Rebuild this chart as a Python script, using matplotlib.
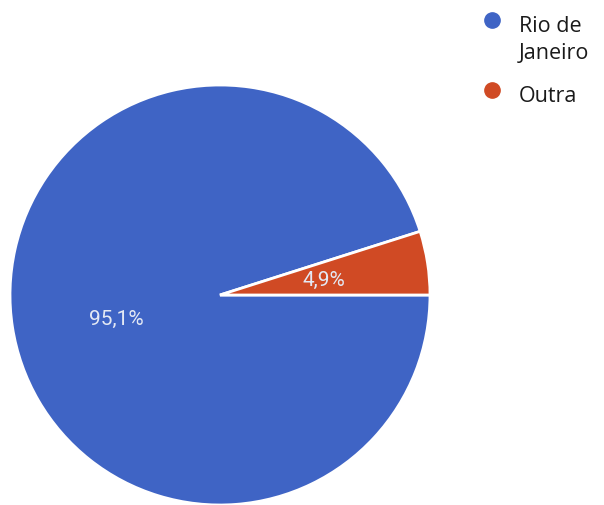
import matplotlib
matplotlib.use("Agg")
import matplotlib.pyplot as plt
from matplotlib.lines import Line2D

plt.rcParams['font.family'] = ['Roboto', 'DejaVu Sans']

# dados
categorias = ['Rio de\nJaneiro', 'Outra']
valores = [95.1, 4.9]
cores = ['#3f64c5', '#d04a24']

fig = plt.figure(figsize=(6.04, 5.06), dpi=100)
ax = fig.add_axes([10 / 604, 0, 420 / 604, 420 / 506])

wedges, texts, autotexts = ax.pie(
    valores, colors=cores, startangle=360 * valores[1] / 100, counterclock=True,
    autopct=lambda p: ('%.1f%%' % p).replace('.', ','), pctdistance=0.5,
    wedgeprops=dict(edgecolor='white', linewidth=2), radius=1.0)
for t in autotexts:
    t.set_color('#e4e9f4')
    t.set_fontsize(15)
# rotulo maior um pouco mais abaixo, como no original
x0, y0 = autotexts[0].get_position()
autotexts[0].set_position((x0, y0 - 0.035))
ax.set_xlim(-1.0, 1.0)
ax.set_ylim(-1.0, 1.0)
ax.set_aspect('equal')

# legenda manual
ys = [1 - 21 / 506, 1 - 91 / 506]
for lab, c, y in zip(categorias, cores, ys):
    fig.add_artist(Line2D([492 / 604], [y], marker='o', markersize=11,
                          color=c, linestyle='none', transform=fig.transFigure))
    fig.text(519 / 604, y + 5 / 506, lab, fontsize=15.5, color='#1a1a1a',
             va='top', ha='left', linespacing=1.35, family=['Open Sans', 'DejaVu Sans'])

fig.savefig('out.png', dpi=100)
